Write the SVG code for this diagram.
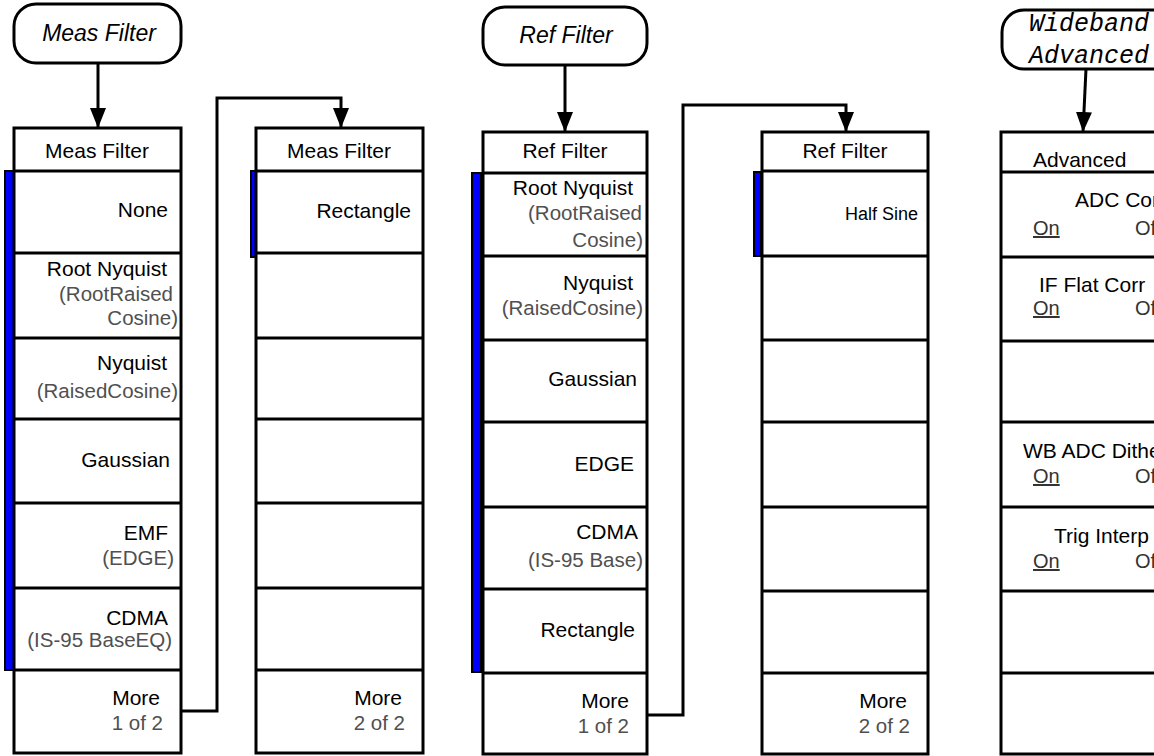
<svg xmlns="http://www.w3.org/2000/svg" width="1154" height="756" viewBox="0 0 1154 756">
<defs>
<marker id="ah" markerUnits="userSpaceOnUse" markerWidth="20" markerHeight="16" refX="20" refY="8" orient="auto">
<path d="M0,0 L20,8 L0,16 z" fill="#000"/>
</marker>
<style>
.bx{fill:#fff;stroke:#000;stroke-width:3}
.ln{stroke:#000;stroke-width:3;fill:none}
.bar{fill:#0000ff;stroke:#000;stroke-width:2}
.rn{fill:#fff;stroke:#000;stroke-width:3}
.t{font-family:"Liberation Sans",Arial,sans-serif;font-size:21px;fill:#000}
.g{font-family:"Liberation Sans",Arial,sans-serif;font-size:20.5px;fill:#505050}
.e{text-anchor:end}
.m{text-anchor:middle}
.it{font-family:"Liberation Sans",Arial,sans-serif;font-size:23px;font-style:italic;fill:#000;text-anchor:middle}
.mono{font-family:"Liberation Mono","Courier New",monospace;font-size:25px;font-style:italic;fill:#000}
.oo{font-family:"Liberation Sans",Arial,sans-serif;font-size:20px;fill:#333}
.conn{stroke:#000;stroke-width:3;fill:none}
</style>
</defs>

<g id="connectors">
<line class="conn" x1="98" y1="63" x2="98" y2="128" marker-end="url(#ah)"/>
<polyline class="conn" points="181,711 217,711 217,98 341,98 341,128" marker-end="url(#ah)"/>
<line class="conn" x1="565" y1="65" x2="565" y2="132" marker-end="url(#ah)"/>
<polyline class="conn" points="647,715 683,715 683,105 846,105 846,132" marker-end="url(#ah)"/>
<line class="conn" x1="1086" y1="69" x2="1083" y2="132" marker-end="url(#ah)"/>
</g>

<g id="key-meas-filter">
<rect class="rn" x="14" y="4" width="167" height="59" rx="22" ry="22"/>
<text class="it" x="99" y="41">Meas Filter</text>
</g>

<g id="key-ref-filter">
<rect class="rn" x="483" y="7" width="164" height="58" rx="22" ry="22"/>
<text class="it" x="566" y="43">Ref Filter</text>
</g>

<g id="key-wideband-advanced">
<rect class="rn" x="1002" y="10" width="172" height="59" rx="22" ry="22"/>
<text class="mono" x="1029" y="31">Wideband</text>
<text class="mono" x="1029" y="63">Advanced</text>
</g>

<g id="menu-meas-filter-1">
<rect class="bar" x="5" y="171" width="9" height="499"/>
<rect class="bx" x="14" y="128" width="167" height="625"/>
<line class="ln" x1="14" y1="171" x2="181" y2="171"/>
<line class="ln" x1="14" y1="253" x2="181" y2="253"/>
<line class="ln" x1="14" y1="338" x2="181" y2="338"/>
<line class="ln" x1="14" y1="419" x2="181" y2="419"/>
<line class="ln" x1="14" y1="503" x2="181" y2="503"/>
<line class="ln" x1="14" y1="588" x2="181" y2="588"/>
<line class="ln" x1="14" y1="670" x2="181" y2="670"/>
<text class="t m" x="97" y="158">Meas Filter</text>
<text class="t e" x="168" y="217">None</text>
<text class="t e" x="167" y="276">Root Nyquist</text>
<text class="g e" x="173" y="301">(RootRaised</text>
<text class="g e" x="178" y="325">Cosine)</text>
<text class="t e" x="167" y="370">Nyquist</text>
<text class="g e" x="178" y="398">(RaisedCosine)</text>
<text class="t e" x="170" y="467">Gaussian</text>
<text class="t e" x="168" y="540">EMF</text>
<text class="g e" x="174" y="565">(EDGE)</text>
<text class="t e" x="168" y="625">CDMA</text>
<text class="g e" x="172" y="647">(IS-95 BaseEQ)</text>
<text class="t e" x="160" y="705">More</text>
<text class="g e" x="163" y="730">1 of 2</text>
</g>

<g id="menu-meas-filter-2">
<rect class="bar" x="251" y="171" width="5" height="86"/>
<rect class="bx" x="256" y="128" width="167" height="625"/>
<line class="ln" x1="256" y1="171" x2="423" y2="171"/>
<line class="ln" x1="256" y1="253" x2="423" y2="253"/>
<line class="ln" x1="256" y1="338" x2="423" y2="338"/>
<line class="ln" x1="256" y1="419" x2="423" y2="419"/>
<line class="ln" x1="256" y1="503" x2="423" y2="503"/>
<line class="ln" x1="256" y1="588" x2="423" y2="588"/>
<line class="ln" x1="256" y1="670" x2="423" y2="670"/>
<text class="t m" x="339" y="158">Meas Filter</text>
<text class="t e" x="411" y="218">Rectangle</text>
<text class="t e" x="402" y="705">More</text>
<text class="g e" x="405" y="730">2 of 2</text>
</g>

<g id="menu-ref-filter-1">
<rect class="bar" x="472" y="173" width="9" height="499"/>
<rect class="bx" x="483" y="132" width="164" height="622"/>
<line class="ln" x1="483" y1="173" x2="647" y2="173"/>
<line class="ln" x1="483" y1="256" x2="647" y2="256"/>
<line class="ln" x1="483" y1="340" x2="647" y2="340"/>
<line class="ln" x1="483" y1="422" x2="647" y2="422"/>
<line class="ln" x1="483" y1="507" x2="647" y2="507"/>
<line class="ln" x1="483" y1="589" x2="647" y2="589"/>
<line class="ln" x1="483" y1="673" x2="647" y2="673"/>
<text class="t m" x="565" y="158">Ref Filter</text>
<text class="t e" x="633" y="195">Root Nyquist</text>
<text class="g e" x="642" y="220">(RootRaised</text>
<text class="g e" x="643" y="247">Cosine)</text>
<text class="t e" x="633" y="290">Nyquist</text>
<text class="g e" x="643" y="315">(RaisedCosine)</text>
<text class="t e" x="637" y="386">Gaussian</text>
<text class="t e" x="634" y="471">EDGE</text>
<text class="t e" x="638" y="539">CDMA</text>
<text class="g e" x="643" y="567">(IS-95 Base)</text>
<text class="t e" x="635" y="637">Rectangle</text>
<text class="t e" x="629" y="708">More</text>
<text class="g e" x="629" y="733">1 of 2</text>
</g>

<g id="menu-ref-filter-2">
<rect class="bar" x="754" y="172" width="7" height="84"/>
<rect class="bx" x="762" y="132" width="166" height="622"/>
<line class="ln" x1="762" y1="171" x2="928" y2="171"/>
<line class="ln" x1="762" y1="256" x2="928" y2="256"/>
<line class="ln" x1="762" y1="340" x2="928" y2="340"/>
<line class="ln" x1="762" y1="422" x2="928" y2="422"/>
<line class="ln" x1="762" y1="507" x2="928" y2="507"/>
<line class="ln" x1="762" y1="591" x2="928" y2="591"/>
<line class="ln" x1="762" y1="673" x2="928" y2="673"/>
<text class="t m" x="845" y="158">Ref Filter</text>
<text class="t e" x="918" y="220" style="font-size:18px">Half Sine</text>
<text class="t e" x="907" y="708">More</text>
<text class="g e" x="910" y="733">2 of 2</text>
</g>

<g id="menu-advanced">
<rect class="bx" x="1001" y="132" width="167" height="622"/>
<line class="ln" x1="1001" y1="172" x2="1168" y2="172"/>
<line class="ln" x1="1001" y1="257" x2="1168" y2="257"/>
<line class="ln" x1="1001" y1="341" x2="1168" y2="341"/>
<line class="ln" x1="1001" y1="422" x2="1168" y2="422"/>
<line class="ln" x1="1001" y1="507" x2="1168" y2="507"/>
<line class="ln" x1="1001" y1="591" x2="1168" y2="591"/>
<line class="ln" x1="1001" y1="673" x2="1168" y2="673"/>
<text class="t" x="1033" y="167">Advanced</text>
<text class="t" x="1075" y="207">ADC Corr</text>
<text class="oo" x="1033" y="235" text-decoration="underline">On</text>
<text class="oo" x="1135" y="235">Off</text>
<text class="t" x="1039" y="292">IF Flat Corr</text>
<text class="oo" x="1033" y="315" text-decoration="underline">On</text>
<text class="oo" x="1135" y="315">Off</text>
<text class="t" x="1023" y="458">WB ADC Dither</text>
<text class="oo" x="1033" y="483" text-decoration="underline">On</text>
<text class="oo" x="1135" y="483">Off</text>
<text class="t" x="1054" y="543">Trig Interp</text>
<text class="oo" x="1033" y="568" text-decoration="underline">On</text>
<text class="oo" x="1135" y="568">Off</text>
</g>
</svg>
